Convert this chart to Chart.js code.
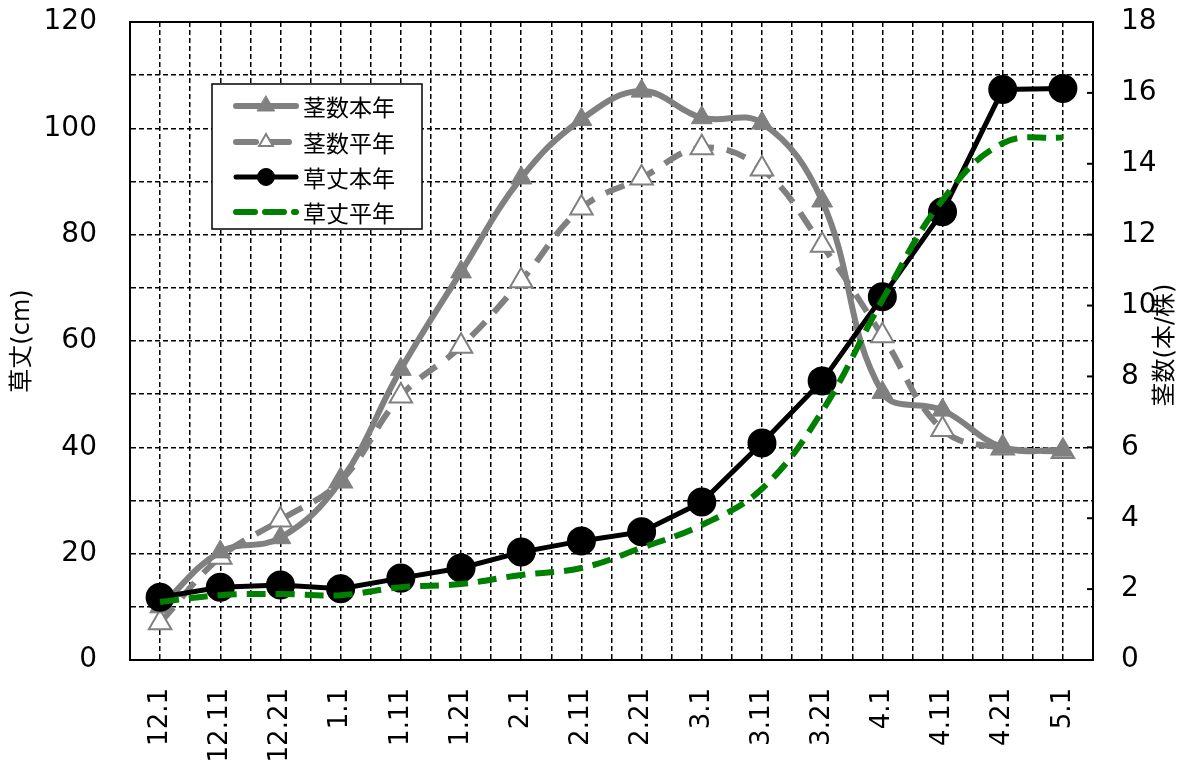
<!DOCTYPE html>
<html lang="ja">
<head>
    <meta charset="UTF-8">
    <title>茎数・草丈</title>
    <style>
        body {
            margin: 0;
            background: #fff;
        }
        #wrap {
            width: 1193px;
            height: 764px;
        }
    </style>
</head>
<body>

<div id="wrap">
    <canvas id="growthChart" width="1193" height="764"></canvas>
</div>

<script src="https://cdn.jsdelivr.net/npm/chart.js"></script>

<script>
    // 半旬ごとの調査日
    const dates = ['12.1', '12.11', '12.21', '1.1', '1.11', '1.21', '2.1', '2.11', '2.21', '3.1', '3.11', '3.21', '4.1', '4.11', '4.21', '5.1'];

    // 茎数 (本/株) - right axis
    const stemThisYear = [1.5, 3.05, 3.45, 5.05, 8.2, 10.95, 13.6, 15.25, 16.05, 15.3, 15.15, 12.95, 7.55, 7.05, 6.0, 5.92];
    const stemNormal = [1.05, 2.9, 3.95, 5.05, 7.45, 8.85, 10.7, 12.75, 13.6, 14.45, 13.85, 11.7, 9.15, 6.5, 5.98, 5.88];

    // 草丈 (cm) - left axis
    const heightThisYear = [11.8, 13.7, 14.1, 13.4, 15.4, 17.3, 20.3, 22.4, 24.1, 29.7, 40.8, 52.5, 68.3, 84.3, 107.3, 107.5];
    const heightNormal = [10.9, 12.2, 12.4, 12.2, 13.7, 14.3, 16.0, 17.3, 21.1, 25.4, 32.2, 46.8, 67.7, 86.5, 97.2, 98.3];

    const GRAY = '#808080';
    const GREEN = '#008000';
    const tickFont = { family: "'DejaVu Sans', 'Noto Sans CJK JP'", size: 28 };
    const titleFont = { family: "'DejaVu Sans', 'Noto Sans CJK JP'", size: 24 };

    // marker shapes for the legend box
    function drawMarker(ctx, style, x, y, r, fill, stroke, lw) {
        ctx.beginPath();
        if (style === 'triangle') {
            for (let k = 0; k < 3; k++) {
                const a = k * 2 * Math.PI / 3;
                const px = x + Math.sin(a) * r, py = y - Math.cos(a) * r;
                if (k === 0) ctx.moveTo(px, py); else ctx.lineTo(px, py);
            }
            ctx.closePath();
        } else {
            ctx.arc(x, y, r, 0, Math.PI * 2);
        }
        ctx.fillStyle = fill;
        ctx.fill();
        ctx.lineWidth = lw;
        ctx.strokeStyle = stroke;
        ctx.stroke();
    }

    // fixed axis sizes so the plot area sits where the original does
    function fixSize(w, h) {
        return s => {
            if (w !== null) s.width = w;
            if (h !== null) s.height = h;
            s.paddingTop = 0;
            s.paddingBottom = 0;
            s.paddingLeft = 0;
            s.paddingRight = 0;
        };
    }

    const extras = {
        id: 'extras',
        beforeDatasetsDraw(chart) {
            const { ctx, chartArea: a } = chart;
            ctx.save();
            ctx.strokeStyle = '#000';
            ctx.lineWidth = 2;
            ctx.setLineDash([]);
            ctx.strokeRect(a.left, a.top, a.right - a.left, a.bottom - a.top);
            // small inward tick marks on the right axis
            const y2 = chart.scales.y2;
            y2.ticks.forEach(t => {
                const y = y2.getPixelForValue(t.value);
                ctx.beginPath();
                ctx.moveTo(a.right - 6, y);
                ctx.lineTo(a.right, y);
                ctx.stroke();
            });
            ctx.restore();
        },
        afterDraw(chart) {
            const ctx = chart.ctx;
            ctx.save();

            // legend box
            const box = { x: 212, y: 84, w: 210, h: 145 };
            ctx.fillStyle = '#fff';
            ctx.fillRect(box.x, box.y, box.w, box.h);
            ctx.strokeStyle = '#000';
            ctx.lineWidth = 1.5;
            ctx.strokeRect(box.x, box.y, box.w, box.h);

            const rows = [106, 142, 177, 212];
            const legendMarker = [
                { r: 10, fill: GRAY, stroke: GRAY, lw: 1 },
                { r: 8, fill: '#fff', stroke: GRAY, lw: 2 },
                { r: 8.5, fill: '#000', stroke: '#000', lw: 1 },
                null
            ];
            chart.data.datasets.forEach((ds, i) => {
                const y = rows[i];
                ctx.beginPath();
                ctx.setLineDash(ds.borderDash || []);
                ctx.lineCap = 'round';
                ctx.lineWidth = ds.borderWidth;
                ctx.strokeStyle = ds.borderColor;
                ctx.moveTo(236, y);
                ctx.lineTo(296, y);
                ctx.stroke();
                ctx.setLineDash([]);
                const m = legendMarker[i];
                if (m) drawMarker(ctx, ds.pointStyle, 266, y, m.r, m.fill, m.stroke, m.lw);

                ctx.fillStyle = '#000';
                ctx.font = "23px 'Noto Sans CJK JP'";
                ctx.textAlign = 'left';
                ctx.textBaseline = 'middle';
                ctx.fillText(ds.label, 303, y + 1);
            });

            // right axis title, reading upward like the left one
            ctx.translate(1166, 345);
            ctx.rotate(-Math.PI / 2);
            ctx.font = `${titleFont.size}px ${titleFont.family}`;
            ctx.fillStyle = '#000';
            ctx.textAlign = 'center';
            ctx.textBaseline = 'middle';
            ctx.fillText('茎数(本/株)', 0, 0);
            ctx.restore();
        }
    };

    const gridDash = [5, 3];

    new Chart(document.getElementById('growthChart'), {
        type: 'line',
        data: {
            labels: dates,
            datasets: [
                {
                    label: '茎数本年',
                    data: stemThisYear,
                    yAxisID: 'y2',
                    borderColor: GRAY,
                    borderWidth: 6,
                    borderCapStyle: 'round',
                    tension: 0.4,
                    pointStyle: 'triangle',
                    pointRadius: 12,
                    pointBackgroundColor: GRAY,
                    pointBorderColor: GRAY,
                    pointBorderWidth: 1,
                    order: 3
                },
                {
                    label: '茎数平年',
                    data: stemNormal,
                    yAxisID: 'y2',
                    borderColor: GRAY,
                    borderWidth: 6,
                    borderDash: [20, 13],
                    borderCapStyle: 'butt',
                    tension: 0.4,
                    pointStyle: 'triangle',
                    pointRadius: 13,
                    pointBackgroundColor: '#fff',
                    pointBorderColor: GRAY,
                    pointBorderWidth: 2,
                    order: 4
                },
                {
                    label: '草丈本年',
                    data: heightThisYear,
                    yAxisID: 'y',
                    borderColor: '#000',
                    borderWidth: 5,
                    tension: 0,
                    pointStyle: 'circle',
                    pointRadius: 12,
                    pointBackgroundColor: '#000',
                    pointBorderColor: '#000',
                    order: 2
                },
                {
                    label: '草丈平年',
                    data: heightNormal,
                    yAxisID: 'y',
                    borderColor: GREEN,
                    borderWidth: 6,
                    borderDash: [19, 10],
                    borderCapStyle: 'butt',
                    tension: 0.4,
                    pointRadius: 0,
                    order: 1
                }
            ]
        },
        options: {
            responsive: false,
            animation: false,
            devicePixelRatio: 1,
            layout: { padding: { top: 22, left: 0, right: 0, bottom: 0 } },
            plugins: {
                legend: { display: false },
                tooltip: { enabled: false }
            },
            scales: {
                x: {
                    type: 'category',
                    position: 'bottom',
                    offset: true,
                    grid: { offset: false, color: '#000', lineWidth: 1.5, drawTicks: false },
                    border: { display: true, color: '#000', width: 2, dash: gridDash },
                    ticks: {
                        color: '#000',
                        font: { family: tickFont.family, size: 26 },
                        minRotation: 90,
                        maxRotation: 90,
                        autoSkip: false,
                        padding: 28
                    },
                    afterFit: fixSize(null, 104)
                },
                xb: {
                    type: 'category',
                    position: 'bottom',
                    offset: true,
                    grid: { offset: true, color: '#000', lineWidth: 1.5, drawTicks: false },
                    border: { display: false, dash: gridDash },
                    ticks: { display: false },
                    afterFit: fixSize(null, 0)
                },
                y: {
                    position: 'left',
                    min: 0,
                    max: 120,
                    grid: { color: '#000', lineWidth: 1.5, drawTicks: false },
                    border: { display: true, color: '#000', width: 2, dash: gridDash },
                    ticks: {
                        stepSize: 10,
                        autoSkip: false,
                        color: '#000',
                        font: tickFont,
                        padding: 33,
                        callback: v => (v % 20 === 0 ? String(v) : '')
                    },
                    title: {
                        display: true,
                        text: '草丈(cm)',
                        color: '#000',
                        font: titleFont,
                        padding: { top: 8, bottom: 0 }
                    },
                    afterFit: fixSize(130, null)
                },
                y2: {
                    position: 'right',
                    min: 0,
                    max: 18,
                    grid: { drawOnChartArea: false, drawTicks: false },
                    border: { display: true, color: '#000', width: 2 },
                    ticks: {
                        stepSize: 2,
                        color: '#000',
                        font: tickFont,
                        padding: 28
                    },
                    afterFit: fixSize(100, null)
                }
            }
        },
        plugins: [extras]
    });
</script>

</body>
</html>
